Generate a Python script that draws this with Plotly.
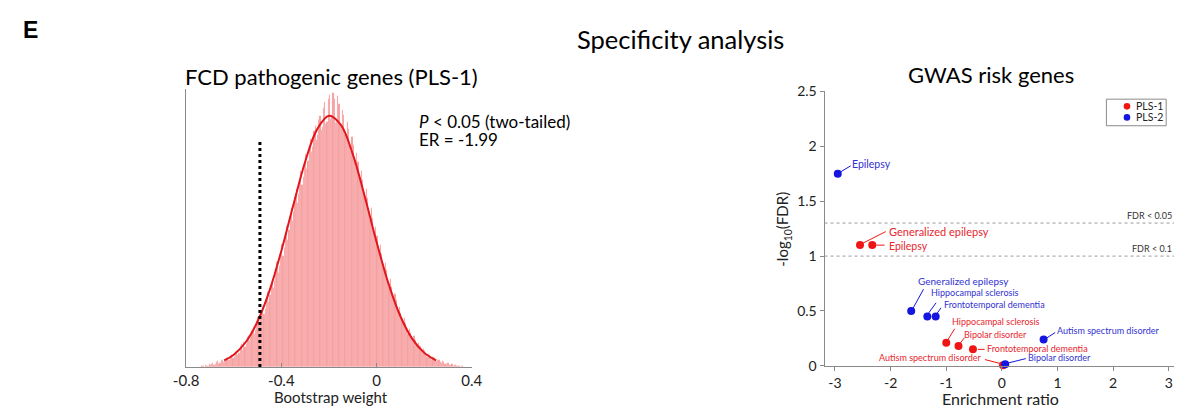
import plotly.graph_objects as go

# ---------------- data: left panel (bootstrap histogram) ----------------
hist_bin_start = -0.74
hist_bin_width = 0.005
hist_counts = [
    0, 1, 1, 0, 2, 1, 1, 3, 2, 3, 4, 2, 3, 5, 6, 3, 4, 7, 8, 5,
    6, 9, 10, 7, 8, 12, 13, 10, 11, 16, 17, 13, 15, 22, 24, 18, 26, 21, 24, 31,
    33, 27, 30, 38, 42, 35, 39, 48, 52, 45, 50, 58, 63, 55, 61, 72, 78, 68, 75, 86,
    92, 83, 90, 102, 110, 98, 106, 119, 128, 116, 124, 138, 147, 133, 143, 158, 166, 152, 162, 177,
    186, 171, 181, 196, 205, 190, 198, 214, 222, 207, 215, 231, 238, 224, 230, 246, 251, 237, 242, 258,
    262, 247, 250, 270, 276, 254, 256, 280, 284, 259, 262, 286, 280, 255, 258, 283, 274, 251, 249, 268,
    263, 243, 238, 256, 248, 231, 225, 240, 232, 217, 209, 223, 214, 200, 191, 205, 195, 182, 173, 186,
    176, 163, 154, 166, 156, 144, 135, 146, 137, 126, 117, 127, 118, 108, 99, 109, 101, 91, 84, 92,
    84, 76, 69, 76, 70, 62, 56, 63, 57, 50, 45, 51, 46, 40, 35, 40, 36, 31, 27, 32,
    28, 24, 21, 25, 22, 18, 15, 19, 17, 13, 11, 14, 13, 10, 8, 11, 10, 7, 6, 8,
    7, 5, 4, 6, 5, 3, 3, 4, 4, 2, 2, 3, 1, 2, 2, 1, 1, 1, 0, 1,
    1, 0,
]
curve_x = [-0.64, -0.60, -0.55, -0.50, -0.45, -0.40, -0.35, -0.30, -0.25, -0.20,
           -0.15, -0.10, -0.05, 0.00, 0.05, 0.10, 0.15, 0.20, 0.25]
curve_y = [6.9, 12.9, 25.9, 47.5, 79.4, 121.1, 168.6, 214.1, 247.8, 261.9,
           252.4, 222.0, 178.1, 130.4, 87.0, 53.0, 29.4, 14.9, 6.9]
observed_weight = -0.49
left_xticks = [-0.8, -0.4, 0, 0.4]
left_xticklabels = ["-0.8", "-0.4", "0", "0.4"]

# ---------------- data: right panel (GWAS enrichment) ----------------
pls1_names = ["Generalized epilepsy", "Epilepsy", "Hippocampal sclerosis",
              "Bipolar disorder", "Frontotemporal dementia", "Autism spectrum disorder"]
pls1_er = [-2.55, -2.33, -1.00, -0.78, -0.52, 0.02]
pls1_fdr = [1.10, 1.10, 0.21, 0.18, 0.15, 0.005]

pls2_names = ["Epilepsy", "Generalized epilepsy", "Hippocampal sclerosis",
              "Frontotemporal dementia", "Autism spectrum disorder", "Bipolar disorder"]
pls2_er = [-2.95, -1.63, -1.34, -1.19, 0.75, 0.06]
pls2_fdr = [1.75, 0.50, 0.45, 0.45, 0.24, 0.015]

series_names = ["PLS-1", "PLS-2"]
fdr_levels = [1.301, 1.0]
fdr_labels = ["FDR < 0.05", "FDR < 0.1"]
right_xticks = [-3, -2, -1, 0, 1, 2, 3]
right_yticks = [0, 0.5, 1, 1.5, 2, 2.5]
right_yticklabels = ["0", "0.5", "1", "1.5", "2", "2.5"]

# ---------------- styles ----------------
FONT = "Lato, 'Open Sans', sans-serif"
RED = "#F01515"
BLUE = "#1515E0"
RED_TXT = "#E8262E"
BLUE_TXT = "#3232D2"
AXIS = "#8a8a8a"
W, H = 1185, 417

# label placement (pixel offsets: text dx, dy, font size, xanchor, leader line x0,y0,x1,y1)
pls1_label_style = {
    "Generalized epilepsy": (26.5, 13.7, 11, "left", (2.4, 1.7, 25.7, 13.5)),
    "Epilepsy": (14.5, -0.5, 10.5, "left", (4, 0, 12.3, 0)),
    "Hippocampal sclerosis": (3.5, 21.3, 9, "left", (1, 2, 8.4, 14)),
    "Bipolar disorder": (4, 12, 9, "left", (1, 2, 5.7, 8)),
    "Frontotemporal dementia": (12.5, 0.4, 9, "left", (5, 0, 11.7, 0)),
    "Autism spectrum disorder": (-19.5, 7.7, 9, "right", (-18, 5.7, -2.4, 1.7)),
}
pls2_label_style = {
    "Epilepsy": (12.5, 9.7, 10.5, "left", (3, 2, 13, 8)),
    "Generalized epilepsy": (5, 30, 10, "left", (1.3, 1.7, 12.3, 21.7)),
    "Hippocampal sclerosis": (2, 24.3, 9, "left", (1, 3, 8.7, 13.6)),
    "Frontotemporal dementia": (6.5, 12, 9, "left", (1.3, 3, 5.3, 8.6)),
    "Autism spectrum disorder": (11.5, 9.3, 9, "left", (3.3, 1.6, 11.6, 7)),
    "Bipolar disorder": (20.5, 6.3, 9, "left", (2.3, 1, 20.6, 5.6)),
}


def py(px):
    """pixel row -> paper fraction"""
    return (H - px) / H


def pxx(px):
    """pixel column -> paper fraction"""
    return px / W


fig = go.Figure()

# histogram bars
bar_x = [hist_bin_start + hist_bin_width * (i + 0.5) for i in range(len(hist_counts))]
fig.add_trace(go.Bar(
    x=bar_x, y=hist_counts, width=hist_bin_width,
    marker=dict(color="#F79A9A", line=dict(color="rgba(255,235,235,0.6)", width=0.3)),
    xaxis="x", yaxis="y", showlegend=False, hoverinfo="skip",
))
# fitted curve
fig.add_trace(go.Scatter(
    x=curve_x, y=curve_y, mode="lines",
    line=dict(color="#E2161D", width=2, shape="spline"),
    xaxis="x", yaxis="y", showlegend=False,
))
# observed value (dotted line)
fig.add_trace(go.Scatter(
    x=[observed_weight, observed_weight], y=[0, 237], mode="lines",
    line=dict(color="black", width=3, dash="dot"),
    xaxis="x", yaxis="y", showlegend=False,
))

# scatter points
fig.add_trace(go.Scatter(
    x=pls1_er, y=pls1_fdr, mode="markers", name=series_names[0],
    marker=dict(color=RED, size=8), cliponaxis=False,
    xaxis="x2", yaxis="y2", showlegend=False,
))
fig.add_trace(go.Scatter(
    x=pls2_er, y=pls2_fdr, mode="markers", name=series_names[1],
    marker=dict(color=BLUE, size=8), cliponaxis=False,
    xaxis="x2", yaxis="y2", showlegend=False,
))

shapes = []
annotations = []

for lvl, lab in zip(fdr_levels, fdr_labels):
    shapes.append(dict(type="line", xref="x2 domain", x0=0, x1=1, yref="y2", y0=lvl, y1=lvl,
                       line=dict(color="#9a9a9a", width=1, dash="dot")))
    annotations.append(dict(text=lab, xref="x2 domain", x=1, xanchor="right",
                            yref="y2", y=lvl, yanchor="bottom", showarrow=False,
                            font=dict(family=FONT, size=9, color="#333")))


def add_labels(names, xs, ys, style, col, tcol):
    for n, xv, yv in zip(names, xs, ys):
        dx, dy, fs, anch, (lx0, ly0, lx1, ly1) = style[n]
        shapes.append(dict(type="line", xref="x2", yref="y2",
                           xsizemode="pixel", ysizemode="pixel",
                           xanchor=xv, yanchor=yv,
                           x0=lx0, y0=ly0, x1=lx1, y1=ly1,
                           line=dict(color=col, width=1)))
        annotations.append(dict(text=n, xref="x2", yref="y2", x=xv, y=yv,
                                xshift=dx, yshift=dy, xanchor=anch, yanchor="middle",
                                showarrow=False, font=dict(family=FONT, size=fs, color=tcol)))


add_labels(pls1_names, pls1_er, pls1_fdr, pls1_label_style, RED, RED_TXT)
add_labels(pls2_names, pls2_er, pls2_fdr, pls2_label_style, BLUE, BLUE_TXT)

# compact legend box (key drawn with shapes + text)
shapes.append(dict(type="rect", xref="paper", yref="paper",
                   x0=pxx(1116), x1=pxx(1177), y0=py(121.7), y1=py(94),
                   line=dict(color=AXIS, width=1), fillcolor="white", layer="above"))
for i, (nm, col) in enumerate(zip(series_names, [RED, BLUE])):
    yc = 101.5 + 11.5 * i
    shapes.append(dict(type="circle", xref="paper", yref="paper",
                       xsizemode="pixel", ysizemode="pixel",
                       xanchor=pxx(1137), yanchor=py(yc),
                       x0=-3.3, x1=3.3, y0=-3.3, y1=3.3,
                       fillcolor=col, line=dict(width=0), layer="above"))
    annotations.append(dict(text=nm, xref="paper", yref="paper", x=pxx(1144.5), y=py(yc),
                            xanchor="left", yanchor="middle", showarrow=False,
                            font=dict(family=FONT, size=10.5, color="#222")))

annotations += [
    dict(text="<b>E</b>", xref="paper", yref="paper", x=pxx(8), y=py(21.5), xanchor="left",
         yanchor="middle", showarrow=False,
         font=dict(family="'Liberation Sans', Arial, sans-serif", size=23, color="black")),
    dict(text="Specificity analysis", xref="paper", yref="paper", x=pxx(681), y=py(31.7),
         xanchor="center", yanchor="middle", showarrow=False,
         font=dict(family=FONT, size=25.5, color="black")),
    dict(text="FCD pathogenic genes (PLS-1)", xref="paper", yref="paper", x=pxx(325.5), y=py(70),
         xanchor="center", yanchor="middle", showarrow=False,
         font=dict(family=FONT, size=22, color="black")),
    dict(text="GWAS risk genes", xref="paper", yref="paper", x=pxx(998), y=py(68),
         xanchor="center", yanchor="middle", showarrow=False,
         font=dict(family=FONT, size=22, color="black")),
    dict(text="<i>P</i> < 0.05 (two-tailed)", xref="paper", yref="paper", x=pxx(413), y=py(117.3),
         xanchor="left", yanchor="middle", showarrow=False, height=19, borderpad=0,
         font=dict(family=FONT, size=17, color="black")),
    dict(text="ER = -1.99", xref="paper", yref="paper", x=pxx(413), y=py(136.3),
         xanchor="left", yanchor="middle", showarrow=False, height=19, borderpad=0,
         font=dict(family=FONT, size=17, color="black")),
    dict(text="Bootstrap weight", xref="paper", yref="paper", x=pxx(325), y=py(405),
         xanchor="center", yanchor="middle", showarrow=False,
         font=dict(family=FONT, size=15, color="#222")),
    dict(text="Enrichment ratio", xref="paper", yref="paper", x=pxx(1008), y=py(406),
         xanchor="center", yanchor="middle", showarrow=False,
         font=dict(family=FONT, size=16, color="#222")),
    dict(text="-log<sub>10</sub>(FDR)", xref="paper", yref="paper", x=pxx(786), y=py(230),
         xanchor="center", yanchor="middle", textangle=-90, showarrow=False,
         font=dict(family=FONT, size=15, color="#222")),
]

fig.update_layout(
    width=W, height=H,
    margin=dict(l=0, r=0, t=0, b=0),
    paper_bgcolor="white", plot_bgcolor="white",
    font=dict(family=FONT, color="#222"),
    bargap=0,
    showlegend=False,
    xaxis=dict(domain=[pxx(176.7), pxx(468.3)], range=[-0.8, 0.4], anchor="y",
               tickvals=left_xticks, ticktext=left_xticklabels,
               ticks="inside", ticklen=4, tickcolor=AXIS,
               showline=True, linecolor=AXIS, linewidth=1,
               showgrid=False, zeroline=False,
               tickfont=dict(family=FONT, size=15, color="#222")),
    yaxis=dict(domain=[py(373.3), py(83.3)], range=[0, 290], anchor="x",
               showline=True, linecolor=AXIS, linewidth=1,
               showticklabels=False, ticks="", showgrid=False, zeroline=False),
    xaxis2=dict(domain=[pxx(828.3), 1.0], range=[-3.188, 3.094], anchor="y2",
                tickvals=right_xticks, ticktext=[str(v) for v in right_xticks],
                ticks="outside", ticklen=4, tickcolor=AXIS,
                showline=True, linecolor=AXIS, linewidth=1,
                showgrid=False, zeroline=False,
                tickfont=dict(family=FONT, size=14, color="#222")),
    yaxis2=dict(domain=[py(372), py(86)], range=[0, 2.5], anchor="x2",
                tickvals=right_yticks, ticktext=right_yticklabels,
                ticks="outside", ticklen=4, tickcolor=AXIS,
                showline=True, linecolor=AXIS, linewidth=1,
                showgrid=False, zeroline=False,
                tickfont=dict(family=FONT, size=14, color="#222")),
    shapes=shapes,
    annotations=annotations,
)

fig.write_html("out.html")
